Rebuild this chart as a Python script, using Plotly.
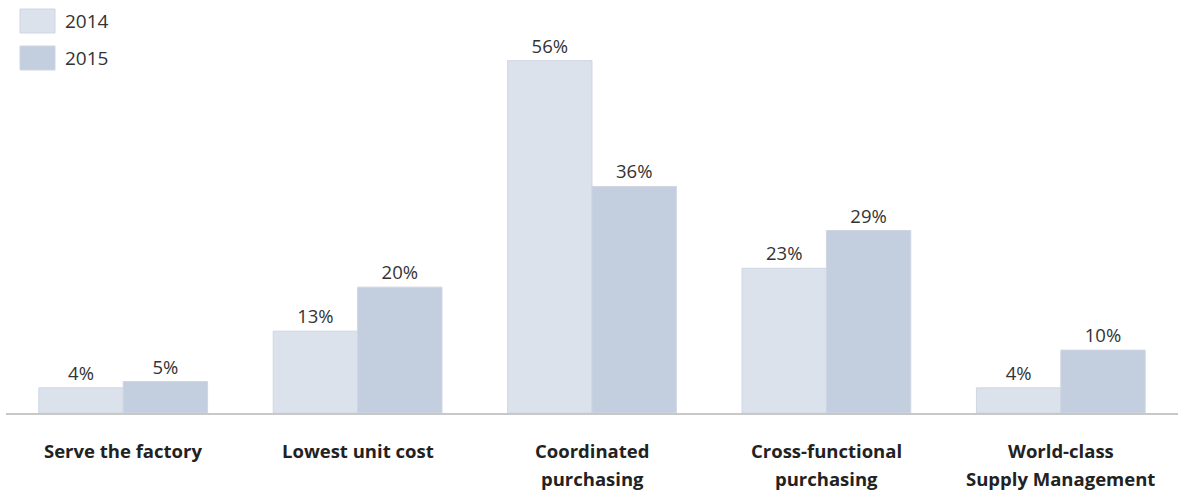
import plotly.graph_objects as go

categories = ["Serve the factory", "Lowest unit cost", "Coordinated<br>purchasing",
              "Cross-functional<br>purchasing", "World-class<br>Supply Management"]
values_2014 = [4, 13, 56, 23, 4]
values_2015 = [5, 20, 36, 29, 10]
series_names = ["2014", "2015"]
colors = ["#dce2ec", "#c3cedf"]

fig = go.Figure()
for name, vals, col in zip(series_names, [values_2014, values_2015], colors):
    fig.add_trace(go.Bar(
        x=list(range(len(categories))), y=vals, name=name,
        marker=dict(color=col, line=dict(color="#cfd6e2", width=1)),
        text=[f"{v}%" for v in vals], textposition="outside",
        textfont=dict(family="Open Sans", size=18.5, color="#333333"),
        cliponaxis=False, showlegend=False,
    ))

# category labels, one annotation per line so the line spacing can be set
annotations = []
for i, cat in enumerate(categories):
    for j, line in enumerate(cat.split("<br>")):
        annotations.append(dict(
            x=i, y=0, xref="x", yref="y", text=f"<b>{line}</b>", showarrow=False,
            yanchor="middle", yshift=-37 - 28 * j,
            font=dict(family="Open Sans", size=18.5, color="#222222")))

# legend swatches and labels
shapes = []
for k, (name, col) in enumerate(zip(series_names, colors)):
    y0 = 1 - (5 + 37 * k) / 409
    y1 = 1 - (29 + 37 * k) / 409
    shapes.append(dict(type="rect", xref="paper", yref="paper",
                       x0=(20 - 6) / 1172, x1=(55 - 6) / 1172, y0=y1, y1=y0,
                       fillcolor=col, line=dict(color="#cfd6e2", width=1)))
    annotations.append(dict(x=(63 - 6) / 1172, y=(y0 + y1) / 2, xref="paper", yref="paper",
                            text=name, showarrow=False, xanchor="left", yanchor="middle",
                            font=dict(family="Open Sans", size=19, color="#333333")))

fig.update_layout(
    width=1178, height=491,
    margin=dict(l=6, r=0, t=4, b=78),
    paper_bgcolor="white", plot_bgcolor="white",
    barmode="group", bargap=0.28, bargroupgap=0,
    xaxis=dict(range=[-0.5, 4.5], showticklabels=False, ticks="",
               showline=True, linecolor="#c8c8c8", linewidth=1.5, showgrid=False, zeroline=False),
    yaxis=dict(range=[0, 65], visible=False),
    shapes=shapes, annotations=annotations,
)

fig.write_html("out.html")
